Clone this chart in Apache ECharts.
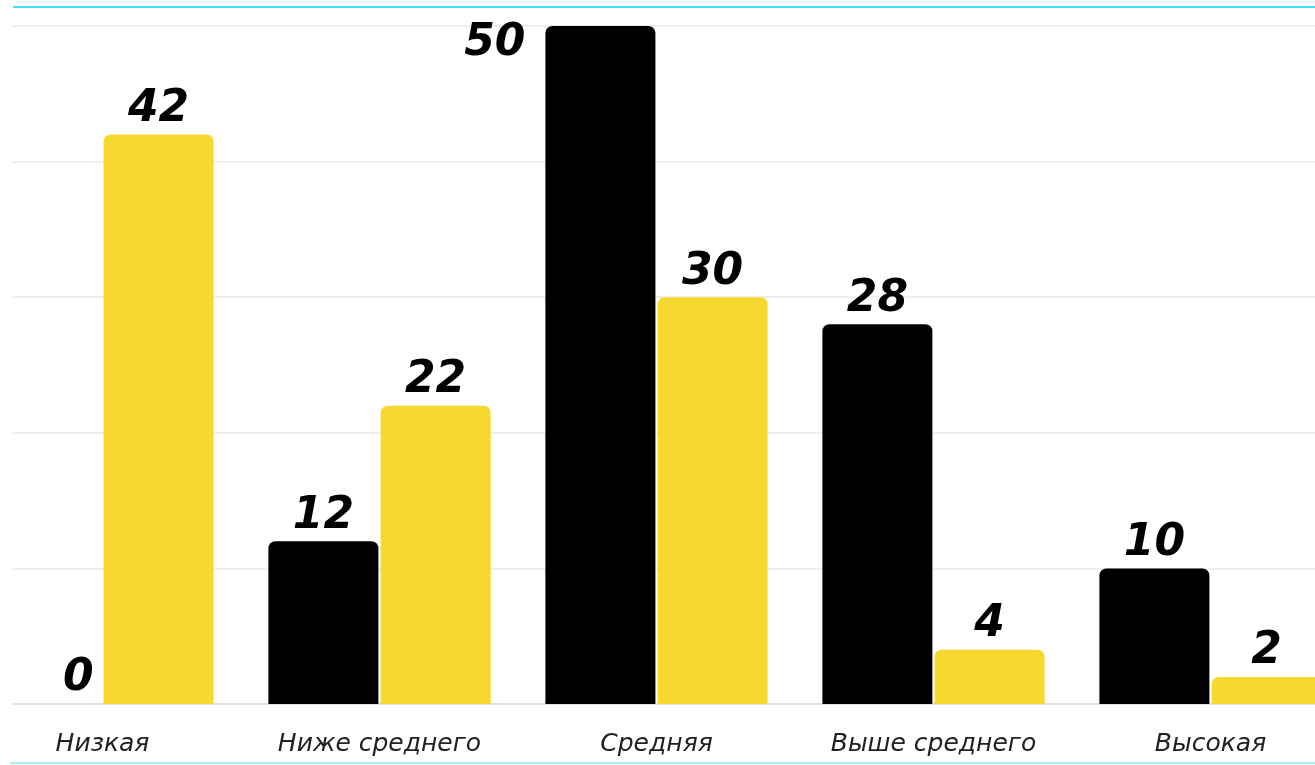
<!DOCTYPE html>
<html><head><meta charset="utf-8">
<script src="https://cdn.jsdelivr.net/npm/echarts@6/dist/echarts.min.js"></script>
<style>html,body{margin:0;padding:0;background:#fff;overflow:hidden;width:1315px;height:765px}#c{width:1385px;height:765px;margin-left:-36px}</style>
</head><body><div id="c"></div>
<script>
const categories = ['Низкая', 'Ниже среднего', 'Средняя', 'Выше среднего', 'Высокая'];
const blackValues = [0, 12, 50, 28, 10];
const yellowValues = [42, 22, 30, 4, 2];
const yTicks = [0, 10, 20, 30, 40, 50];

const chart = echarts.init(document.getElementById('c'));
const labelFont = {fontFamily: 'DejaVu Sans', fontWeight: 'bold', fontStyle: 'italic', fontSize: 44, color: '#000'};
const OX = 36;

const blackData = blackValues.map((v, i) => {
  if (i === 2) return {value: v, label: {position: [-20, -4], align: 'right', verticalAlign: 'top'}};
  if (v === 0) return {value: v, label: {offset: [32, 0]}};
  return v;
});

chart.setOption({
  animation: false,
  grid: {left: 0, right: 0, top: 26, bottom: 61, containLabel: false},
  xAxis: {
    type: 'category', data: categories,
    axisLine: {lineStyle: {color: '#dedede', width: 2}},
    axisTick: {show: false},
    axisLabel: {interval: 0, hideOverlap: false, margin: 28, fontFamily: 'DejaVu Sans', fontStyle: 'italic', fontSize: 25, color: '#222'}
  },
  yAxis: {
    type: 'value', min: yTicks[0], max: yTicks[yTicks.length - 1], interval: 10,
    axisLabel: {show: false}, axisLine: {show: false}, axisTick: {show: false},
    splitLine: {lineStyle: {color: '#efefef', width: 2}}
  },
  series: [
    {type: 'bar', data: blackData, barWidth: 110, barGap: '2%',
     itemStyle: {color: '#000', borderRadius: [7, 7, 0, 0]},
     label: Object.assign({show: true, position: 'top', distance: 3}, labelFont)},
    {type: 'bar', data: yellowValues, barWidth: 110,
     itemStyle: {color: '#f7d82f', borderRadius: [7, 7, 0, 0]},
     label: Object.assign({show: true, position: 'top', distance: 3}, labelFont)}
  ],
  graphic: [
    {type: 'rect', shape: {x: 0, y: 0, width: OX + 13, height: 765}, style: {fill: '#fff'}, z: 100},
    {type: 'line', shape: {x1: OX + 13, y1: 7, x2: OX + 1315, y2: 7}, style: {stroke: '#3fe6ef', lineWidth: 2}, z: 101},
    {type: 'line', shape: {x1: OX + 10, y1: 763, x2: OX + 1315, y2: 763}, style: {stroke: '#a8f0f2', lineWidth: 2}, z: 101}
  ]
});
</script></body></html>
